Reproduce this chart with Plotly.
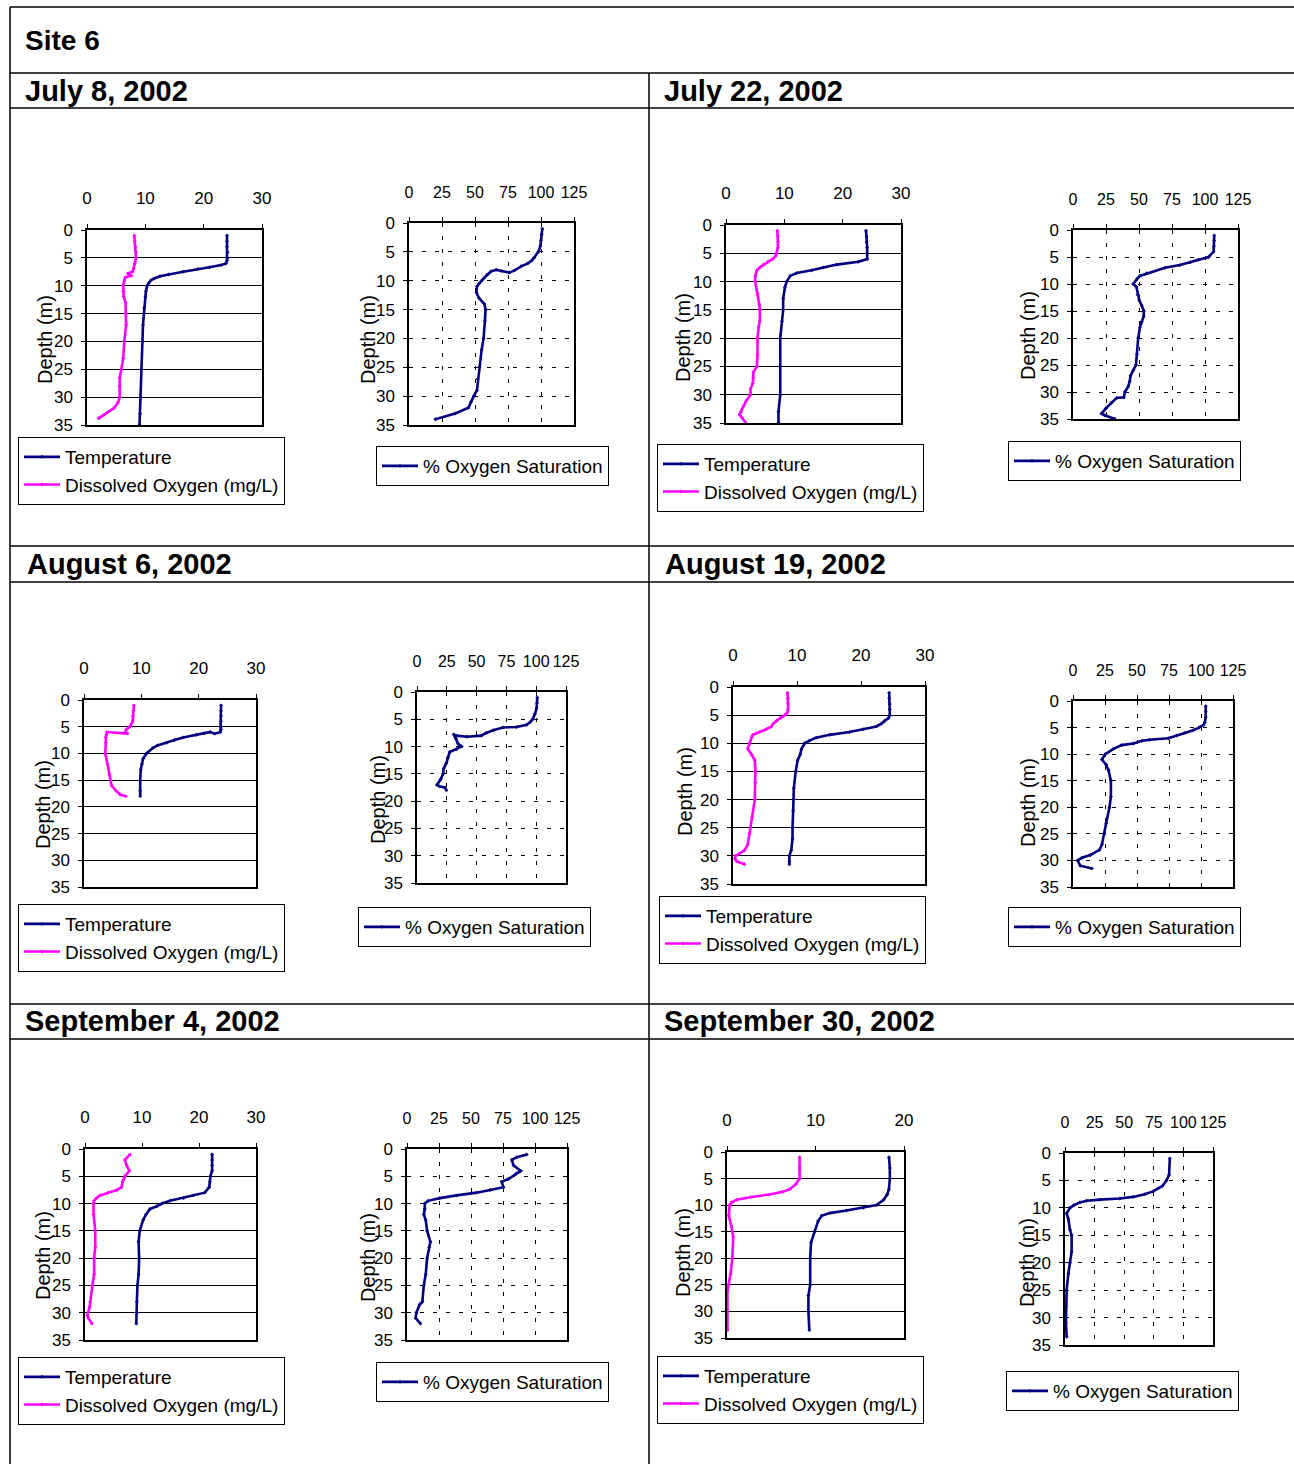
import plotly.graph_objects as go

W, H = 1294, 1464
FONT = "Liberation Sans, Arial, sans-serif"
BOLD = "Liberation Sans, Arial, sans-serif"
NAVY = "#000080"
MAGENTA = "#FF00FF"

SITE_TITLE = "Site 6"
DATES = ["July 8, 2002", "July 22, 2002", "August 6, 2002",
         "August 19, 2002", "September 4, 2002", "September 30, 2002"]
TEMP_NAME = "Temperature"
DO_NAME = "Dissolved Oxygen (mg/L)"
SAT_NAME = "% Oxygen Saturation"
DEPTH_TICKS = [0, 5, 10, 15, 20, 25, 30, 35]
SAT_TICKS = [0, 25, 50, 75, 100, 125]

# ---------------- July 8 ----------------
JUL8_T_DEPTH = [1, 2, 3, 4, 5, 5.5, 6, 6.3, 6.7, 7, 7.5, 8, 8.3, 8.7, 9, 9.5, 10, 11, 12, 14, 17, 20, 25, 30, 33, 35]
JUL8_T = [24.0, 24.0, 24.0, 24.1, 24.1, 24.0, 23.8, 23.0, 21.0, 19.0, 16.5, 14.0, 12.5, 11.5, 11.0, 10.6, 10.3, 10.1, 10.0, 9.8, 9.6, 9.5, 9.3, 9.2, 9.1, 9.0]
JUL8_DO_DEPTH = [1, 2, 3, 4, 5, 6, 7, 7.5, 7.8, 8.2, 8.5, 9, 10, 11, 12, 13, 15, 17, 20, 23, 25, 26.5, 28, 30, 31, 32, 32.6, 33.2, 33.8]
JUL8_DO = [8.1, 8.2, 8.3, 8.4, 8.4, 8.2, 8.0, 7.8, 7.0, 7.6, 6.6, 6.4, 6.2, 6.2, 6.3, 6.6, 6.6, 6.7, 6.4, 6.2, 5.9, 5.6, 5.6, 5.6, 5.3, 4.6, 3.7, 2.9, 2.0]
JUL8_SAT_DEPTH = [1, 2, 3, 4, 5, 6, 6.5, 7, 7.5, 8.2, 8.6, 8.3, 8.1, 8.4, 9, 9.5, 10, 10.5, 11, 12, 13, 14, 15, 17, 20, 22, 25, 27, 29, 30, 31, 32, 33, 34]
JUL8_SAT = [101, 100.5, 100, 99.5, 98, 95, 93, 90, 85, 80, 76, 70, 66, 62, 59, 57, 55, 53, 51.5, 51, 53, 57, 58, 57.5, 56.5, 55, 53.5, 52, 51.5, 49, 47, 45, 35, 20]

# ---------------- July 22 ----------------
JUL22_T_DEPTH = [1, 2, 3, 4, 5, 6, 6.5, 7, 7.5, 8, 8.5, 9, 10, 11, 13, 15, 17, 20, 25, 30, 33, 35]
JUL22_T = [24.0, 24.1, 24.1, 24.2, 24.2, 24.2, 22.7, 19.0, 16.7, 14.7, 12.1, 11.0, 10.4, 10.1, 9.8, 9.8, 9.6, 9.3, 9.3, 9.3, 9.0, 9.0]
JUL22_DO_DEPTH = [1, 2, 3, 4, 5, 5.5, 6, 6.5, 7, 7.5, 8, 9, 10, 12, 14, 15, 17, 18, 20, 23, 25, 26, 27, 28, 29, 30, 31, 32, 33, 33.5, 34, 35]
JUL22_DO = [8.8, 8.9, 8.9, 8.9, 8.7, 8.5, 8.0, 7.2, 6.4, 5.8, 5.3, 5.0, 5.0, 5.4, 5.7, 5.8, 5.8, 5.6, 5.4, 5.4, 5.3, 4.7, 4.7, 4.6, 4.2, 4.2, 3.5, 3.0, 2.6, 2.3, 2.7, 3.4]
JUL22_SAT_DEPTH = [1, 2, 3, 4, 5, 5.5, 6, 6.5, 7, 8, 8.5, 9, 10, 10.5, 12, 13, 14, 15, 16, 17, 18, 20, 23, 25, 26, 27, 28, 29, 30, 31, 31.1, 32, 33, 34, 34.3, 35]
JUL22_SAT = [107, 107, 106.8, 106.5, 102.7, 95, 88.7, 81, 69.7, 55.8, 50.7, 48.7, 45.6, 48, 49, 50.2, 52, 53.7, 53.5, 52, 50.7, 49.4, 48.5, 47.7, 45.6, 43.6, 43, 41.8, 39.3, 38.5, 33, 29, 25, 21.6, 24, 31.7]

# ---------------- August 6 ----------------
AUG6_T_DEPTH = [1, 2, 3, 4, 5, 5.5, 6, 6.3, 6.0, 6.2, 6.5, 7, 7.5, 8, 8.5, 9, 10, 11, 12, 13, 15, 17, 18]
AUG6_T = [23.9, 23.9, 23.9, 23.9, 23.9, 23.9, 23.8, 22.8, 22.0, 21.0, 19.6, 17.3, 15.8, 14.4, 12.8, 12.0, 10.9, 10.3, 10.1, 9.9, 9.8, 9.8, 9.8]
AUG6_DO_DEPTH = [1, 2, 3, 4, 5, 5.5, 6, 6.3, 6.0, 6.5, 7, 8, 10, 12, 14, 16, 17, 17.7, 18]
AUG6_DO = [8.7, 8.6, 8.5, 8.5, 8.0, 7.4, 7.2, 7.6, 4.0, 3.9, 3.8, 3.8, 3.7, 4.1, 4.4, 4.8, 5.6, 6.3, 7.3]
AUG6_SAT_DEPTH = [1, 2, 3, 4, 5, 5.5, 6, 6.4, 6.5, 7, 7.5, 8, 8.2, 8.0, 7.8, 8.5, 9.5, 10, 10.5, 11, 12, 13, 14, 15, 16, 17, 17.3, 17.5, 18]
AUG6_SAT = [100.9, 100.7, 100.3, 99, 97, 95, 92, 83.5, 72, 64, 58, 54, 42, 33, 30.8, 32.5, 34.5, 37.3, 33, 27.5, 26, 24.7, 22.4, 21.9, 19.9, 16.8, 19, 23.3, 24.7]

# ---------------- August 19 ----------------
AUG19_T_DEPTH = [1, 2, 3, 4, 5, 5.5, 6, 6.5, 7, 7.5, 8, 8.5, 9, 9.5, 10, 11, 12, 13, 15, 18, 20, 22, 25, 27, 29, 30, 31, 31.5]
AUG19_T = [24.4, 24.4, 24.5, 24.5, 24.5, 24.3, 23.7, 23.2, 22.4, 20.3, 18.2, 15.1, 13.0, 12.0, 11.2, 10.7, 10.5, 10.1, 9.8, 9.5, 9.5, 9.4, 9.3, 9.3, 9.1, 8.8, 8.8, 8.8]
AUG19_DO_DEPTH = [1, 2, 3, 4, 4.5, 5, 5.5, 6, 6.5, 7, 7.5, 8, 8.5, 9, 10, 11, 12, 13, 15, 17, 20, 23, 26, 28, 29, 30, 30.5, 31, 31.5]
AUG19_DO = [8.5, 8.6, 8.6, 8.6, 8.5, 8.1, 7.4, 6.8, 6.3, 6.0, 5.2, 4.2, 3.1, 2.9, 2.6, 2.3, 2.9, 3.4, 3.5, 3.5, 3.4, 3.0, 2.6, 2.3, 1.8, 0.4, 0.3, 0.6, 1.8]
AUG19_SAT_DEPTH = [1, 2, 3, 4, 4.5, 5, 5.5, 6, 6.5, 7, 7.3, 7.5, 8, 8.3, 9, 10, 11, 12, 13, 15, 18, 20, 23, 25, 27, 28, 29, 29.5, 30, 31, 31.5]
AUG19_SAT = [103.7, 103.7, 103.7, 103, 102, 98.5, 93.9, 87.4, 81, 74.4, 60, 53.7, 47.2, 38, 31.6, 25.2, 22.6, 25.9, 27.7, 29.6, 29.6, 28.5, 25.9, 24.4, 22.6, 20.7, 13.5, 7, 3.6, 5.7, 14.8]

# ---------------- September 4 ----------------
SEP4_T_DEPTH = [1, 2, 3, 4, 5, 6, 7, 8, 8.5, 9, 9.5, 10, 10.5, 11, 12, 13, 15, 17, 20, 23, 25, 28, 30, 32]
SEP4_T = [22.3, 22.3, 22.3, 22.3, 22.0, 21.9, 21.8, 21.0, 19.0, 17.3, 14.9, 13.5, 12.6, 11.4, 10.7, 10.2, 9.6, 9.4, 9.5, 9.4, 9.2, 9.1, 9.1, 9.0]
SEP4_DO_DEPTH = [1, 2, 3, 4, 5, 6, 7, 7.5, 8, 8.5, 9, 9.5, 10, 12, 15, 18, 20, 23, 25, 28, 29, 30.5, 31, 32]
SEP4_DO = [7.9, 7.0, 7.3, 7.8, 7.0, 6.6, 6.4, 5.6, 4.1, 2.6, 2.0, 1.6, 1.5, 1.5, 1.8, 1.8, 1.6, 1.6, 1.3, 0.9, 0.8, 0.4, 0.6, 1.2]
SEP4_SAT_DEPTH = [1, 1.5, 2, 3, 4, 4.5, 5.5, 6, 7, 7.5, 8, 8.5, 9, 9.5, 10, 11, 12, 13, 15, 17, 18, 20, 23, 25, 28, 28.5, 30, 31, 32]
SEP4_SAT = [93.6, 85.8, 81.9, 83.2, 88.9, 85.3, 79.2, 74, 75.3, 64.9, 54.4, 38.7, 25.6, 16.5, 13.9, 13.9, 13.1, 14.6, 15.7, 18.3, 17.3, 15.7, 14.6, 13.1, 12, 9.9, 7.3, 6.8, 10.5]

# ---------------- September 30 ----------------
SEP30_T_DEPTH = [1, 3, 5, 7, 8, 9, 10, 10.5, 11, 11.5, 12, 13, 15, 17, 20, 25, 27, 30, 33.5]
SEP30_T = [18.3, 18.4, 18.4, 18.3, 18.1, 17.7, 16.9, 15.4, 13.5, 11.6, 10.7, 10.3, 9.9, 9.5, 9.4, 9.4, 9.2, 9.2, 9.3]
SEP30_DO_DEPTH = [1, 3, 5, 6, 7, 7.5, 8, 8.5, 9, 9.5, 10, 12, 14, 16, 20, 23, 25, 26, 30, 33.5]
SEP30_DO = [8.2, 8.2, 8.2, 7.8, 7.1, 6.3, 4.8, 2.6, 1.1, 0.5, 0.3, 0.2, 0.5, 0.7, 0.6, 0.4, 0.2, 0.05, 0.05, 0.05]
SEP30_SAT_DEPTH = [1, 4, 5, 6, 7, 7.5, 8, 8.3, 8.5, 8.7, 9, 9.5, 10, 11, 12, 14, 15, 18, 20, 22, 25, 28, 31, 33.5]
SEP30_SAT = [88.5, 87.9, 85.7, 82.3, 74.4, 67.4, 57.6, 46.3, 29.5, 18.3, 12.6, 7.6, 4.2, 1.4, 2.8, 4.2, 5.6, 5.6, 4.2, 2.8, 1.4, 0.8, 0.8, 1.4]

TEMP_TICKS_30 = [0, 10, 20, 30]
TEMP_TICKS_20 = [0, 10, 20]

# layout geometry (pixels) for each panel
PANELS = [
    dict(date=DATES[0], hdr=(23, 91),
         t=(JUL8_T_DEPTH, JUL8_T), d=(JUL8_DO_DEPTH, JUL8_DO), s=(JUL8_SAT_DEPTH, JUL8_SAT),
         tbox=(87, 230, 262, 425), sbox=(409, 223, 574, 425), tmax=30, tticks=TEMP_TICKS_30,
         tleg=(18, 437), sleg=(376, 446), tdep=(45, 340), sdep=(368, 340)),
    dict(date=DATES[1], hdr=(662, 91),
         t=(JUL22_T_DEPTH, JUL22_T), d=(JUL22_DO_DEPTH, JUL22_DO), s=(JUL22_SAT_DEPTH, JUL22_SAT),
         tbox=(726, 225, 901, 423), sbox=(1073, 230, 1238, 419), tmax=30, tticks=TEMP_TICKS_30,
         tleg=(657, 444), sleg=(1008, 441), tdep=(683, 338), sdep=(1028, 336)),
    dict(date=DATES[2], hdr=(25, 564),
         t=(AUG6_T_DEPTH, AUG6_T), d=(AUG6_DO_DEPTH, AUG6_DO), s=(AUG6_SAT_DEPTH, AUG6_SAT),
         tbox=(84, 700, 256, 887), sbox=(417, 692, 566, 883), tmax=30, tticks=TEMP_TICKS_30,
         tleg=(18, 904), sleg=(358, 907), tdep=(43, 805), sdep=(378, 800)),
    dict(date=DATES[3], hdr=(663, 564),
         t=(AUG19_T_DEPTH, AUG19_T), d=(AUG19_DO_DEPTH, AUG19_DO), s=(AUG19_SAT_DEPTH, AUG19_SAT),
         tbox=(733, 687, 925, 884), sbox=(1073, 701, 1233, 887), tmax=30, tticks=TEMP_TICKS_30,
         tleg=(659, 896), sleg=(1008, 907), tdep=(685, 792), sdep=(1028, 803)),
    dict(date=DATES[4], hdr=(23, 1021),
         t=(SEP4_T_DEPTH, SEP4_T), d=(SEP4_DO_DEPTH, SEP4_DO), s=(SEP4_SAT_DEPTH, SEP4_SAT),
         tbox=(85, 1149, 256, 1340), sbox=(407, 1149, 567, 1340), tmax=30, tticks=TEMP_TICKS_30,
         tleg=(18, 1357), sleg=(376, 1362), tdep=(43, 1256), sdep=(368, 1258)),
    dict(date=DATES[5], hdr=(662, 1021),
         t=(SEP30_T_DEPTH, SEP30_T), d=(SEP30_DO_DEPTH, SEP30_DO), s=(SEP30_SAT_DEPTH, SEP30_SAT),
         tbox=(727, 1152, 904, 1338), sbox=(1065, 1153, 1213, 1345), tmax=20, tticks=TEMP_TICKS_20,
         tleg=(657, 1356), sleg=(1006, 1371), tdep=(683, 1253), sdep=(1027, 1263)),
]


def fx(x):
    return x / W


def fy(y):
    return 1 - y / H


TICK_FONT = dict(family=FONT, size=17, color="black")
SAT_TICK_FONT = dict(family=FONT, size=16, color="black")
LEG_FONT = dict(family=FONT, size=19, color="black")

fig = go.Figure()
layout = dict(
    template="none",
    width=W, height=H, margin=dict(l=0, r=0, t=0, b=0, pad=0, autoexpand=False),
    paper_bgcolor="white", plot_bgcolor="white", showlegend=True,
    annotations=[], shapes=[],
)


def axis_common():
    return dict(showline=True, linecolor="black", linewidth=1.5, mirror=True,
                ticks="outside", ticklen=4, tickcolor="black", tickwidth=1,
                zeroline=False, tickfont=TICK_FONT, automargin=False, tickangle=0)


def line_trace(xv, yv, name, color, ax, leg):
    return go.Scatter(x=xv, y=yv, name=name, mode="lines+markers",
                      line=dict(color=color, width=2.6),
                      marker=dict(symbol="diamond", size=3, color=color),
                      xaxis="x" + ("" if ax == 1 else str(ax)),
                      yaxis="y" + ("" if ax == 1 else str(ax)),
                      legend="legend" + ("" if leg == 1 else str(leg)),
                      showlegend=True)


for i, p in enumerate(PANELS):
    ta, sa = 2 * i + 1, 2 * i + 2
    # temperature / DO chart
    l, t, r, b = p["tbox"]
    xa = axis_common()
    xa.update(domain=[fx(l), fx(r)], anchor="y" + ("" if ta == 1 else str(ta)), side="top",
              range=[0, p["tmax"]], tickvals=p["tticks"], showgrid=False, ticklabelstandoff=13)
    ya = axis_common()
    ya.update(domain=[fy(b), fy(t)], anchor="x" + ("" if ta == 1 else str(ta)),
              range=[35, 0], tickvals=DEPTH_TICKS, showgrid=True, gridcolor="black", gridwidth=1,
              ticklabelstandoff=5)
    layout["xaxis" + ("" if ta == 1 else str(ta))] = xa
    layout["yaxis" + ("" if ta == 1 else str(ta))] = ya
    fig.add_trace(line_trace(p["t"][1], p["t"][0], TEMP_NAME, NAVY, ta, ta))
    fig.add_trace(line_trace(p["d"][1], p["d"][0], DO_NAME, MAGENTA, ta, ta))

    # saturation chart
    l, t, r, b = p["sbox"]
    xa = axis_common()
    xa.update(domain=[fx(l), fx(r)], anchor="y" + str(sa), side="top",
              range=[0, 125], tickvals=SAT_TICKS, showgrid=True, gridcolor="black",
              gridwidth=1, griddash="4px,9px", ticklabelstandoff=13, tickfont=SAT_TICK_FONT)
    ya = axis_common()
    ya.update(domain=[fy(b), fy(t)], anchor="x" + str(sa),
              range=[35, 0], tickvals=DEPTH_TICKS, showgrid=True, gridcolor="black",
              gridwidth=1, griddash="4px,9px", ticklabelstandoff=5)
    layout["xaxis" + str(sa)] = xa
    layout["yaxis" + str(sa)] = ya
    fig.add_trace(line_trace(p["s"][1], p["s"][0], SAT_NAME, NAVY, sa, sa))

    # legends
    for leg_i, pos in ((ta, p["tleg"]), (sa, p["sleg"])):
        layout["legend" + ("" if leg_i == 1 else str(leg_i))] = dict(
            x=fx(pos[0]), y=fy(pos[1]), xanchor="left", yanchor="top",
            xref="paper", yref="paper",
            bgcolor="white", bordercolor="black", borderwidth=1,
            font=LEG_FONT, tracegroupgap=0, itemwidth=36, traceorder="normal")

    # depth titles
    for pos in (p["tdep"], p["sdep"]):
        layout["annotations"].append(dict(
            text="Depth (m)", x=fx(pos[0]), y=fy(pos[1]), xref="paper", yref="paper",
            showarrow=False, textangle=-90, xanchor="center", yanchor="middle",
            font=dict(family=FONT, size=20, color="black")))

    # date header
    layout["annotations"].append(dict(
        text="<b>%s</b>" % p["date"], x=fx(p["hdr"][0]), y=fy(p["hdr"][1]),
        xref="paper", yref="paper", showarrow=False, xanchor="left", yanchor="middle",
        font=dict(family=BOLD, size=29, color="black")))

layout["annotations"].append(dict(
    text="<b>%s</b>" % SITE_TITLE, x=fx(23), y=fy(40), xref="paper", yref="paper",
    showarrow=False, xanchor="left", yanchor="middle",
    font=dict(family=BOLD, size=28, color="black")))

# table rules
HLINES = [7, 73, 108, 546, 582, 1004, 1039]
for yy in HLINES:
    layout["shapes"].append(dict(type="line", xref="paper", yref="paper",
                                 x0=fx(10), x1=1, y0=fy(yy), y1=fy(yy),
                                 line=dict(color="black", width=1.5)))
layout["shapes"].append(dict(type="line", xref="paper", yref="paper",
                             x0=fx(10), x1=fx(10), y0=fy(7), y1=0,
                             line=dict(color="black", width=1.5)))
layout["shapes"].append(dict(type="line", xref="paper", yref="paper",
                             x0=fx(649), x1=fx(649), y0=fy(73), y1=0,
                             line=dict(color="black", width=1.5)))

fig.update_layout(**layout)
fig.write_html("out.html", config={"displayModeBar": False},
               post_script="document.body.style.margin='0';")
